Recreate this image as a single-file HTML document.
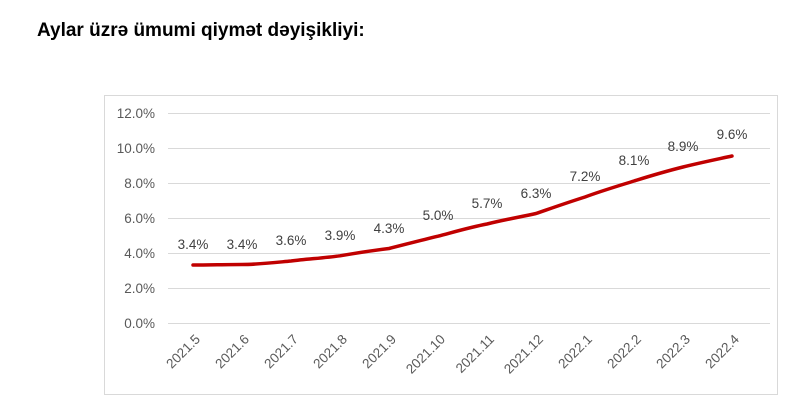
<!DOCTYPE html>
<html><head><style>
body{margin:0;background:#fff;width:800px;height:412px;overflow:hidden}
</style></head><body>
<svg width="800" height="412" xmlns="http://www.w3.org/2000/svg" font-family="Liberation Sans, sans-serif">
<text x="37" y="36" font-size="19" font-weight="bold" fill="#000">Aylar üzrə ümumi qiymət dəyişikliyi:</text>
<rect x="104.5" y="95.5" width="673" height="299" fill="#fff" stroke="#d9d9d9" stroke-width="1"/>
<g stroke="#d9d9d9" stroke-width="1">
<line x1="168" x2="770" y1="113.5" y2="113.5"/>
<line x1="168" x2="770" y1="148.5" y2="148.5"/>
<line x1="168" x2="770" y1="183.5" y2="183.5"/>
<line x1="168" x2="770" y1="218.5" y2="218.5"/>
<line x1="168" x2="770" y1="253.5" y2="253.5"/>
<line x1="168" x2="770" y1="288.5" y2="288.5"/>
<line x1="168" x2="770" y1="323.5" y2="323.5"/>
</g>
<g font-size="13.5" fill="#595959" text-anchor="end">
<text x="155" y="118">12.0%</text>
<text x="155" y="153">10.0%</text>
<text x="155" y="188">8.0%</text>
<text x="155" y="223">6.0%</text>
<text x="155" y="258">4.0%</text>
<text x="155" y="293">2.0%</text>
<text x="155" y="328">0.0%</text>
</g>
<path d="M193,265 C209,265 226,264.5 242,264.5 C258,264.5 275,262.5 291,261 C307,259 324,258 340,255.8 C356,253 373,250.5 389,248.5 C405,244.5 422,240 438,236.2 C454,232 471,227 487,224 C503,220 520,217 536,213.5 C552,208 569,202 585,197 C601,191 618,186 634,181 C650,176 667,171 683,167 C699,163 716,159.5 732,156" fill="none" stroke="#c00000" stroke-width="3.5" stroke-linecap="round"/>
<g font-size="13.5" fill="#404040" text-anchor="middle">
<text x="193" y="249">3.4%</text>
<text x="242" y="249">3.4%</text>
<text x="291" y="245">3.6%</text>
<text x="340" y="240">3.9%</text>
<text x="389" y="233">4.3%</text>
<text x="438" y="220">5.0%</text>
<text x="487" y="208">5.7%</text>
<text x="536" y="198">6.3%</text>
<text x="585" y="181">7.2%</text>
<text x="634" y="165">8.1%</text>
<text x="683" y="151">8.9%</text>
<text x="732" y="139">9.6%</text>
</g>
<g font-size="13.5" fill="#595959" text-anchor="end">
<text transform="translate(201,340) rotate(-45)">2021.5</text>
<text transform="translate(250,340) rotate(-45)">2021.6</text>
<text transform="translate(299,340) rotate(-45)">2021.7</text>
<text transform="translate(348,340) rotate(-45)">2021.8</text>
<text transform="translate(397,340) rotate(-45)">2021.9</text>
<text transform="translate(446,340) rotate(-45)">2021.10</text>
<text transform="translate(495,340) rotate(-45)">2021.11</text>
<text transform="translate(544,340) rotate(-45)">2021.12</text>
<text transform="translate(593,340) rotate(-45)">2022.1</text>
<text transform="translate(642,340) rotate(-45)">2022.2</text>
<text transform="translate(691,340) rotate(-45)">2022.3</text>
<text transform="translate(740,340) rotate(-45)">2022.4</text>
</g>
</svg>
</body></html>
